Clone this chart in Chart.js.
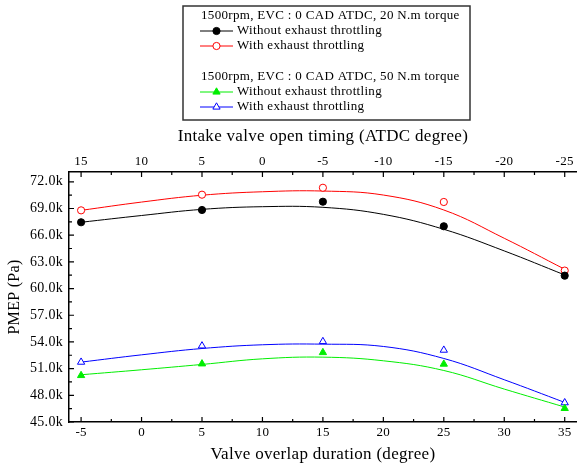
<!DOCTYPE html>
<html>
<head>
<meta charset="utf-8">
<script src="https://cdn.jsdelivr.net/npm/chart.js@4.4.1/dist/chart.umd.min.js"></script>
<style>
  html, body { margin: 0; padding: 0; background: #fff; overflow: hidden; }
  #wrap { width: 582px; height: 468px; }
</style>
</head>
<body>
<div id="wrap"><canvas id="myChart" width="582" height="468"></canvas></div>
<script>
// valve overlap duration (degree) of the measured points
const overlap = [-5, 5, 15, 25, 35];

// PMEP (Pa) at 1500rpm, EVC 0 CAD ATDC
const without20 = [67450, 68830, 69760, 67000, 61450];
const with20 = [68790, 70550, 71330, 69730, 62020];
const without50 = [50230, 51540, 52810, 51510, 46530];
const with50 = [51730, 53560, 54050, 53080, 47170];

// trend curves, read every 5 degree
const fitX = [-5, 0, 5, 10, 15, 20, 25, 30, 35];
const fitWithout20 = [67450, 68210, 68900, 69200, 69130, 68340, 66660, 64230, 61530];
const fitWith20 = [68790, 69720, 70490, 70880, 70960, 70510, 68830, 65650, 62170];
const fitWithout50 = [50310, 50870, 51470, 52100, 52290, 51880, 50790, 48700, 46680];
const fitWith50 = [51730, 52550, 53260, 53680, 53750, 53490, 52140, 49750, 47200];

// tick values
const overlapTicks = [-5, 0, 5, 10, 15, 20, 25, 30, 35];
const ivoTicks = [15, 10, 5, 0, -5, -10, -15, -20, -25];
const pmepTicks = [45000, 48000, 51000, 54000, 57000, 60000, 63000, 66000, 69000, 72000];

const legendHeaders = [
  '1500rpm, EVC : 0 CAD ATDC, 20 N.m torque',
  '1500rpm, EVC : 0 CAD ATDC, 50 N.m torque'
];

const SERIF = '"Liberation Serif", "Times New Roman", serif';

const toXY = (xs, ys) => xs.map((x, i) => ({ x: x, y: ys[i] }));

function points(label, ys, color, style, filled) {
  return {
    label: label,
    data: toXY(overlap, ys),
    showLine: false,
    pointStyle: style,
    pointRadius: style === 'triangle' ? 4.2 : 3.6,
    pointBorderWidth: 1,
    borderColor: color,
    pointBorderColor: color,
    pointBackgroundColor: filled ? color : '#fff',
    order: 0
  };
}

function curve(ys, color) {
  return {
    data: toXY(fitX, ys),
    borderColor: color,
    borderWidth: 1,
    pointRadius: 0,
    tension: 0.4,
    fill: false,
    order: 1
  };
}

// slightly spaced lettering for all axis text
const spacing = {
  id: 'spacing',
  beforeDraw(chart) {
    chart.ctx.letterSpacing = '0.3px';
  }
};

// inward tick marks, long at labelled values and short halfway between
const innerTicks = {
  id: 'innerTicks',
  afterDraw(chart) {
    const ctx = chart.ctx;
    const area = chart.chartArea;
    ctx.save();
    ctx.strokeStyle = '#000';
    ctx.lineWidth = 1.2;
    ctx.beginPath();
    const marks = (vals, scale, draw) => {
      vals.forEach((v, i) => {
        draw(scale.getPixelForValue(v), 5);
        if (i < vals.length - 1) {
          draw(scale.getPixelForValue((v + vals[i + 1]) / 2), 3);
        }
      });
    };
    marks(overlapTicks, chart.scales.x, (p, len) => {
      ctx.moveTo(p, area.bottom); ctx.lineTo(p, area.bottom - len);
    });
    marks(ivoTicks, chart.scales.x2, (p, len) => {
      ctx.moveTo(p, area.top); ctx.lineTo(p, area.top + len);
    });
    marks(pmepTicks, chart.scales.y, (p, len) => {
      ctx.moveTo(area.left, p); ctx.lineTo(area.left + len, p);
    });
    ctx.stroke();
    ctx.restore();
  }
};

// boxed legend with two headed groups
const groupLegend = {
  id: 'groupLegend',
  afterDraw(chart) {
    const ctx = chart.ctx;
    const sets = chart.data.datasets.filter(d => d.label);
    ctx.save();
    ctx.strokeStyle = '#333';
    ctx.lineWidth = 1.5;
    ctx.strokeRect(183, 6, 287, 114);
    ctx.font = '13px ' + SERIF;
    ctx.letterSpacing = '0.32px';
    ctx.textBaseline = 'middle';
    legendHeaders.forEach((head, g) => {
      let y = 16 + g * 61;
      ctx.fillStyle = '#000';
      ctx.textAlign = 'left';
      ctx.fillText(head, 201, y);
      sets.slice(g * 2, g * 2 + 2).forEach((ds, k) => {
        const ry = y + 15 * (k + 1);
        ctx.strokeStyle = ds.borderColor;
        ctx.lineWidth = 1;
        ctx.beginPath();
        ctx.moveTo(200, ry); ctx.lineTo(233, ry);
        ctx.stroke();
        ctx.fillStyle = ds.pointBackgroundColor;
        ctx.strokeStyle = ds.pointBorderColor;
        Chart.helpers.drawPoint(ctx, {
          pointStyle: ds.pointStyle, radius: ds.pointRadius, rotation: 0, borderWidth: 1
        }, 216.5, ry);
        ctx.fillStyle = '#000';
        ctx.fillText(ds.label, 237, ry);
      });
    });
    ctx.restore();
  }
};

const ctx = document.getElementById('myChart');

new Chart(ctx, {
  type: 'line',
  data: {
    datasets: [
      points('Without exhaust throttling', without20, '#000000', 'circle', true),
      points('With exhaust throttling', with20, '#ff0000', 'circle', false),
      points('Without exhaust throttling', without50, '#00ee00', 'triangle', true),
      points('With exhaust throttling', with50, '#0000ff', 'triangle', false),
      curve(fitWithout20, '#000000'),
      curve(fitWith20, '#ff0000'),
      curve(fitWithout50, '#00ee00'),
      curve(fitWith50, '#0000ff')
    ]
  },
  options: {
    responsive: false,
    animation: false,
    layout: { padding: { top: 122, left: 0, right: 0, bottom: 0 } },
    plugins: {
      legend: { display: false },
      tooltip: { enabled: false }
    },
    scales: {
      x: {
        type: 'linear',
        position: 'bottom',
        min: -6,
        max: 36,
        afterBuildTicks: s => { s.ticks = overlapTicks.map(v => ({ value: v })); },
        afterFit: s => { s.height = 46; },
        grid: { display: false, drawTicks: false },
        border: { display: true, color: '#000', width: 1.5 },
        ticks: { color: '#000', padding: 3, font: { family: SERIF, size: 13 } },
        title: {
          display: true,
          text: 'Valve overlap duration (degree)',
          color: '#000',
          padding: { top: 0, bottom: 3 },
          font: { family: SERIF, size: 17 }
        }
      },
      x2: {
        type: 'linear',
        position: 'top',
        reverse: true,
        min: -26,
        max: 16,
        afterBuildTicks: s => { s.ticks = ivoTicks.map(v => ({ value: v })); },
        afterFit: s => { s.height = 50; },
        grid: { display: false, drawTicks: false },
        border: { display: true, color: '#000', width: 1.5 },
        ticks: { color: '#000', padding: 3, font: { family: SERIF, size: 13 } },
        title: {
          display: true,
          text: 'Intake valve open timing (ATDC degree)',
          color: '#000',
          padding: { top: 4, bottom: 0 },
          font: { family: SERIF, size: 17 }
        }
      },
      y: {
        type: 'linear',
        min: 45000,
        max: 73100,
        afterBuildTicks: s => { s.ticks = pmepTicks.map(v => ({ value: v })); },
        afterFit: s => { s.width = 69; },
        grid: { display: false, drawTicks: false },
        border: { display: true, color: '#000', width: 1.5 },
        ticks: {
          color: '#000',
          padding: 6,
          font: { family: SERIF, size: 14 },
          callback: v => (v / 1000).toFixed(1) + 'k'
        },
        title: {
          display: true,
          text: 'PMEP (Pa)',
          color: '#000',
          padding: { top: 5, bottom: 0 },
          font: { family: SERIF, size: 16 }
        }
      }
    }
  },
  plugins: [spacing, innerTicks, groupLegend]
});
</script>
</body>
</html>
